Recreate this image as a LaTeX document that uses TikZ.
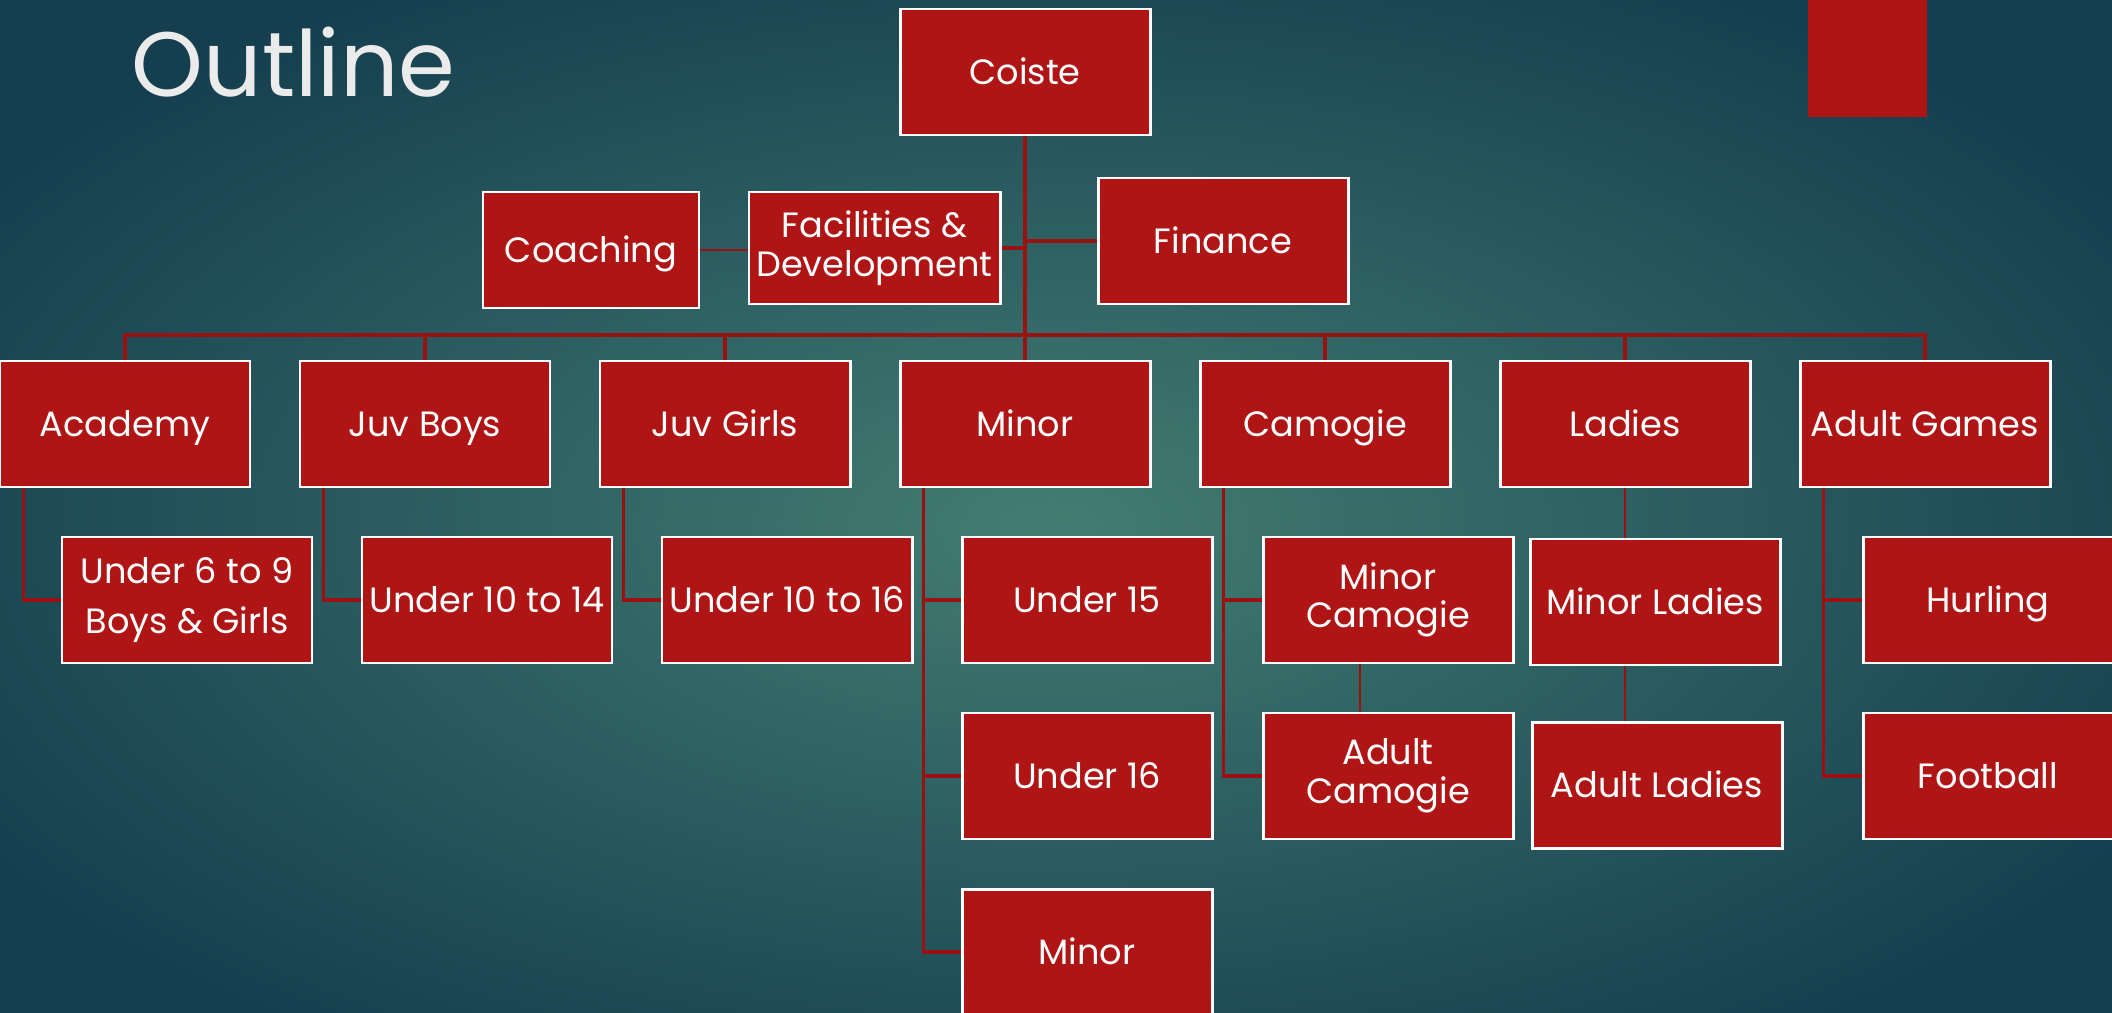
\documentclass[tikz,border=0pt]{standalone}
\usepackage{fontspec}
\setmainfont{Poppins}
\usetikzlibrary{positioning}

\pgfdeclarelayer{bg}
\pgfdeclarelayer{links}
\pgfsetlayers{bg,links,main}

\begin{document}
\begin{tikzpicture}[x=1cm,y=-1cm]

\def\pagew{21.12}
\def\pageh{10.13}
\def\bary{3.35}
\def\rowa{4.24}
\def\rowb{6.0}
\def\rowc{7.76}
\def\rowd{9.52}

% Colours
\definecolor{boxred}{HTML}{B01515}
\definecolor{linkred}{HTML}{9A1111}
\definecolor{tealmid}{HTML}{437D72}
\definecolor{tealedge}{HTML}{153F4F}
\colorlet{boxcolor}{boxred}
\colorlet{linkcolor}{linkred}
\colorlet{titlecolor}{white!92!black}

% Styles
\tikzstyle{unit}=[draw=white, line width=0.85pt, fill=boxcolor, text=white, minimum width=2.5cm, minimum height=1.26cm, inner sep=1pt, align=center, text height=7pt, text depth=0pt, font=\fontsize{10}{11}\selectfont]
\tikzstyle{pair}=[text height={}, text depth={}]
\tikzstyle{link}=[draw=linkcolor, line width=1.1pt]
\tikzstyle{thin link}=[draw=linkcolor, line width=0.5pt]

\useasboundingbox (0,0) rectangle (\pagew,\pageh);
\clip (0,0) rectangle (\pagew,\pageh);

% Background
\begin{pgfonlayer}{bg}
\shade[inner color=tealmid, outer color=tealedge] (-2,-1) rectangle (23,11.5);
\fill[boxcolor] (18.08,0) rectangle (19.27,1.17);
\end{pgfonlayer}

\node[anchor=base west, text=titlecolor, inner sep=0, font=\fontsize{26}{30}\selectfont] (title) at (1.31,0.97) {Outline};

% Top
\node[unit] (coiste) at (10.25,0.72) {Coiste};
\node[unit, minimum width=2.16cm, minimum height=1.16cm] (coaching) at (5.91,2.50) {Coaching};
\node[unit, pair, minimum width=2.51cm, minimum height=1.12cm] (facilities) at (8.745,2.48) {Facilities \&\\Development};
\node[unit] (finance) at (12.23,2.41) {Finance};

% Sections
\node[unit] (academy) at (1.25,\rowa) {Academy};
\node[unit] (juvboys) at (4.25,\rowa) {Juv Boys};
\node[unit] (juvgirls) at (7.25,\rowa) {Juv Girls};
\node[unit] (minor) at (10.25,\rowa) {Minor};
\node[unit] (camogie) at (13.25,\rowa) {Camogie};
\node[unit] (ladies) at (16.25,\rowa) {Ladies};
\node[unit] (adultgames) at (19.25,\rowa) {Adult Games};

% Teams
\node[unit, pair] (under69) at (1.87,\rowb) {Under 6 to 9\\[3pt]Boys \& Girls};
\node[unit] (under1014) at (4.87,\rowb) {Under 10 to 14};
\node[unit] (under1016) at (7.87,\rowb) {Under 10 to 16};
\node[unit] (under15) at (10.87,\rowb) {Under 15};
\node[unit, pair] (minorcamogie) at (13.88,\rowb) {Minor\\Camogie};
\node[unit] (minorladies) at (16.55,6.02) {Minor Ladies};
\node[unit] (hurling) at (19.88,\rowb) {Hurling};

\node[unit] (under16) at (10.87,\rowc) {Under 16};
\node[unit, pair] (adultcamogie) at (13.88,\rowc) {Adult\\Camogie};
\node[unit] (adultladies) at (16.57,7.85) {Adult Ladies};
\node[unit] (football) at (19.88,\rowc) {Football};

\node[unit] (minortwo) at (10.87,\rowd) {Minor};

\begin{pgfonlayer}{links}
% Trunk and bar
\coordinate (bar) at (0,\bary);
\draw[link] (coiste.south) -- (minor.north);
\draw[link] (academy.north) -- (academy.north |- bar) -| (adultgames.north);
\draw[link] (juvboys.north) -- (juvboys.north |- bar);
\draw[link] (juvgirls.north) -- (juvgirls.north |- bar);
\draw[link] (camogie.north) -- (camogie.north |- bar);
\draw[link] (ladies.north) -- (ladies.north |- bar);

% Assistants
\draw[link] (facilities.east) -- (facilities.east -| coiste.south);
\draw[link] (finance.west) -- (finance.west -| coiste.south);
\draw[thin link] (coaching.east) -- (coaching.east -| facilities.west);

% Children
\draw[link] ([xshift=0.25cm]academy.south west) |- (under69.west);
\draw[link] ([xshift=0.25cm]juvboys.south west) |- (under1014.west);
\draw[link] ([xshift=0.25cm]juvgirls.south west) |- (under1016.west);
\draw[link] ([xshift=0.25cm]minor.south west) |- (minortwo.west);
\draw[link] ([xshift=0.25cm]minor.south west) |- (under15.west);
\draw[link] ([xshift=0.25cm]minor.south west) |- (under16.west);
\draw[link] ([xshift=0.25cm]camogie.south west) |- (adultcamogie.west);
\draw[link] ([xshift=0.25cm]camogie.south west) |- (minorcamogie.west);
\draw[thin link] ([xshift=-0.28cm]minorcamogie.south) -- ([xshift=-0.28cm]adultcamogie.north);
\draw[thin link] (ladies.south) -- (ladies.south |- minorladies.north);
\draw[thin link] (ladies.south |- minorladies.south) -- (ladies.south |- adultladies.north);
\draw[link] ([xshift=0.25cm]adultgames.south west) |- (football.west);
\draw[link] ([xshift=0.25cm]adultgames.south west) |- (hurling.west);
\end{pgfonlayer}

\end{tikzpicture}
\end{document}
